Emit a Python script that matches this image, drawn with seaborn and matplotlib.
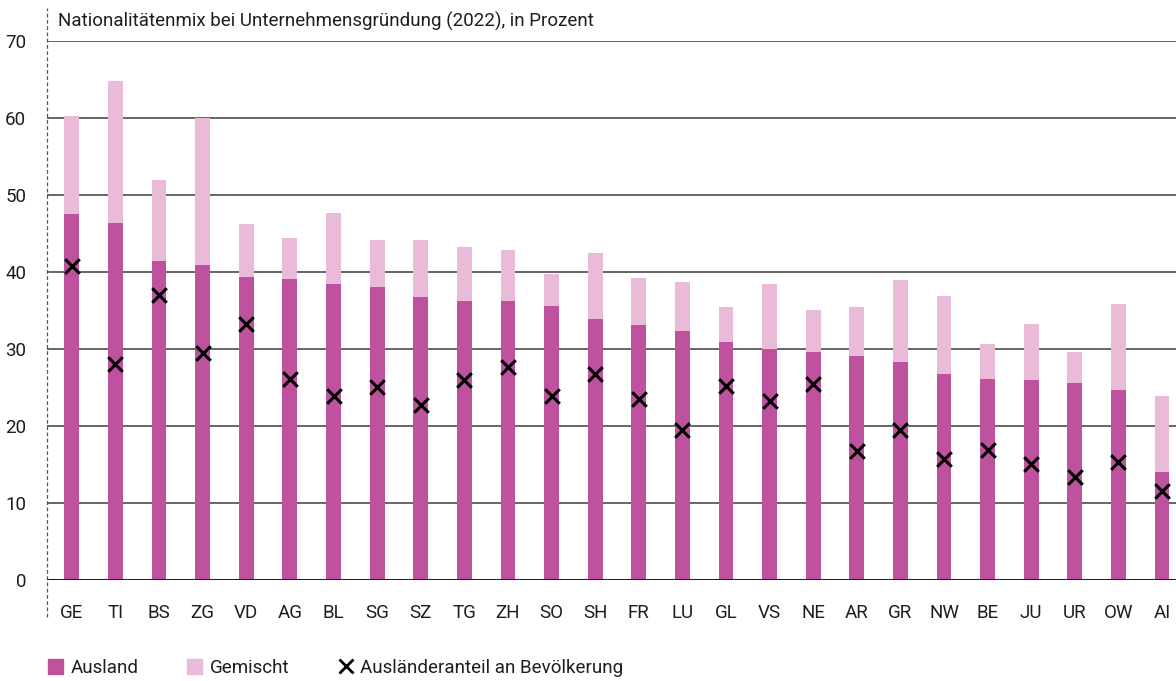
import numpy as np
import pandas as pd
import seaborn as sns
import matplotlib.pyplot as plt
from matplotlib.patches import Patch
from matplotlib.lines import Line2D

# Kantone, sortiert nach Anteil Ausland
kantone = ["GE", "TI", "BS", "ZG", "VD", "AG", "BL", "SG", "SZ", "TG", "ZH", "SO", "SH",
           "FR", "LU", "GL", "VS", "NE", "AR", "GR", "NW", "BE", "JU", "UR", "OW", "AI"]
ausland = [47.5, 46.3, 41.4, 40.9, 39.4, 39.1, 38.5, 38.0, 36.7, 36.2, 36.2, 35.6, 33.9,
           33.1, 32.4, 30.9, 30.0, 29.6, 29.1, 28.3, 26.7, 26.1, 26.0, 25.6, 24.7, 14.0]
gemischt = [12.8, 18.5, 10.5, 19.1, 6.8, 5.3, 9.2, 6.1, 7.4, 7.0, 6.6, 4.1, 8.6,
            6.1, 6.3, 4.6, 8.4, 5.5, 6.3, 10.7, 10.2, 4.6, 7.3, 4.0, 11.1, 9.9]
bevoelkerung = [40.8, 28.0, 37.0, 29.5, 33.3, 26.1, 23.9, 25.1, 22.7, 26.0, 27.6, 23.9, 26.7,
                23.5, 19.5, 25.2, 23.3, 25.5, 16.8, 19.5, 15.7, 16.9, 15.1, 13.4, 15.3, 11.6]

df = pd.DataFrame({"kanton": kantone, "ausland": ausland, "gemischt": gemischt,
                   "bevoelkerung": bevoelkerung})
df["total"] = df["ausland"] + df["gemischt"]

dark = "#bf529e"
light = "#eabad9"
grid_col = "#3c3c3c"
txt_col = "#1e1e1e"

sns.set_style("white")
plt.rcParams["font.family"] = ["Roboto", "DejaVu Sans"]
plt.rcParams["text.color"] = txt_col
plt.rcParams["xtick.color"] = txt_col
plt.rcParams["ytick.color"] = txt_col

fig = plt.figure(figsize=(11.76, 6.81), dpi=100)
ax = fig.add_axes([47 / 1176, 101 / 681, 1 - 47 / 1176, 539 / 681])

# gestapelte Balken: total (hell) hinten, Ausland (dunkel) davor
sns.barplot(data=df, x="kanton", y="total", color=light, saturation=1, width=0.34,
            linewidth=0, ax=ax, zorder=2)
sns.barplot(data=df, x="kanton", y="ausland", color=dark, saturation=1, width=0.34,
            linewidth=0, ax=ax, zorder=3)
sns.scatterplot(x=np.arange(len(df)), y=df["bevoelkerung"], marker="x", color="black",
                s=110, linewidth=2.2, ax=ax, zorder=5)

ax.set_xlim(-0.57, 25.32)
ax.set_ylim(0, 70)
ax.set_yticks(range(0, 71, 10))
ax.yaxis.grid(True, color=grid_col, lw=1.1)
ax.set_axisbelow(True)
for s in ax.spines.values():
    s.set_visible(False)
ax.axhline(0, color="#222222", lw=2.2, zorder=6)
ax.tick_params(axis="y", length=7, width=1.1, color=grid_col, pad=8, labelsize=13.5)
ax.tick_params(axis="x", length=0, pad=17, labelsize=13.5)
ax.set_xlabel("")
ax.set_ylabel("")

# gestrichelte Achse links
ax.plot([0, 0], [-0.069, 1.061], transform=ax.transAxes, ls=(0, (3, 2)),
        color="#555555", lw=0.9, clip_on=False)

fig.text(58 / 1176, 1 - 21 / 681, "Nationalitätenmix bei Unternehmensgründung (2022), in Prozent",
         fontsize=13.5, va="center", ha="left")

handles = [Patch(color=dark, label="Ausland"),
           Patch(color=light, label="Gemischt"),
           Line2D([], [], marker="x", color="black", ls="none", markersize=10,
                  markeredgewidth=2, label="Ausländeranteil an Bevölkerung")]
fig.legend(handles=handles, loc="center left", bbox_to_anchor=(31 / 1176, 1 - 668 / 681),
           ncol=3, frameon=False, fontsize=13.5, handlelength=0.8, handleheight=0.8,
           handletextpad=0.4, columnspacing=2.6)

fig.savefig("out.png", dpi=100)
